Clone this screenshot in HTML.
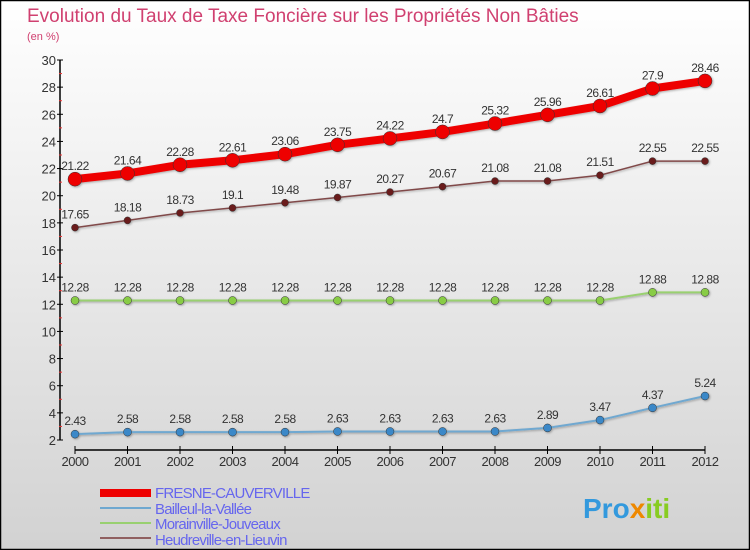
<!DOCTYPE html>
<html><head><meta charset="utf-8"><style>
body{margin:0}
#wrap{width:750px;height:550px;position:relative;overflow:hidden;font-family:"Liberation Sans",sans-serif}
</style></head><body>
<div id="wrap">
<svg id="svg" width="750" height="550" xmlns="http://www.w3.org/2000/svg">
<defs>
<linearGradient id="bg" x1="0" y1="0" x2="0" y2="1"><stop offset="0" stop-color="#ffffff"/><stop offset="1" stop-color="#d2d2d2"/></linearGradient>
<filter id="sh"><feDropShadow dx="1" dy="1" stdDeviation="1" flood-color="#000" flood-opacity="0.3"/></filter>
</defs>
<rect x="0.5" y="0.5" width="749" height="549" fill="url(#bg)" stroke="#000" stroke-width="1.5"/>
<text x="27" y="22" font-size="19" fill="#d04070">Evolution du Taux de Taxe Foncière sur les Propriétés Non Bâties</text>
<text x="27" y="40" font-size="11" fill="#d04070">(en %)</text>
<g id="axes"></g>
<g id="series"></g>
<g id="legend" letter-spacing="-0.8">
<rect x="100" y="489" width="51" height="8" fill="#ee0000"/>
<text x="155" y="498" font-size="15" fill="#6666ee">FRESNE-CAUVERVILLE</text>
<rect x="100" y="507" width="51" height="2" fill="#6fa8d0"/>
<text x="155" y="514" font-size="15" fill="#6666ee">Bailleul-la-Vallée</text>
<rect x="100" y="522" width="51" height="2" fill="#99d070"/>
<text x="155" y="529" font-size="15" fill="#6666ee">Morainville-Jouveaux</text>
<rect x="100" y="537" width="51" height="2" fill="#906060"/>
<text x="155" y="545" font-size="15" fill="#6666ee">Heudreville-en-Lieuvin</text>
</g>
<text x="583" y="518" font-size="28" font-weight="bold" fill="#3399dd">Pro<tspan fill="#ee8800">x</tspan><tspan fill="#88cc22">iti</tspan></text>
</svg>
</div>
<script>
const years=["2000","2001","2002","2003","2004","2005","2006","2007","2008","2009","2010","2011","2012"];
const yTicks=[2,4,6,8,10,12,14,16,18,20,22,24,26,28,30];
const fresne=[21.22,21.64,22.28,22.61,23.06,23.75,24.22,24.7,25.32,25.96,26.61,27.9,28.46];
const fresneLbl=["21.22","21.64","22.28","22.61","23.06","23.75","24.22","24.7","25.32","25.96","26.61","27.9","28.46"];
const heud=[17.65,18.18,18.73,19.1,19.48,19.87,20.27,20.67,21.08,21.08,21.51,22.55,22.55];
const heudLbl=["17.65","18.18","18.73","19.1","19.48","19.87","20.27","20.67","21.08","21.08","21.51","22.55","22.55"];
const morain=[12.28,12.28,12.28,12.28,12.28,12.28,12.28,12.28,12.28,12.28,12.28,12.88,12.88];
const morainLbl=["12.28","12.28","12.28","12.28","12.28","12.28","12.28","12.28","12.28","12.28","12.28","12.88","12.88"];
const bail=[2.43,2.58,2.58,2.58,2.58,2.63,2.63,2.63,2.63,2.89,3.47,4.37,5.24];
const bailLbl=["2.43","2.58","2.58","2.58","2.58","2.63","2.63","2.63","2.63","2.89","3.47","4.37","5.24"];
const NS="http://www.w3.org/2000/svg";
const x=i=>75+i*52.5;
const y=v=>440-(v-2)*(380/28);
function mk(tag,attrs,parent,text){const e=document.createElementNS(NS,tag);for(const k in attrs)e.setAttribute(k,attrs[k]);if(text!==undefined)e.textContent=text;parent.appendChild(e);return e;}
const ax=document.getElementById('axes');
let e=mk('line',{x1:60,y1:y(30),x2:60,y2:y(2),stroke:'#000','stroke-width':1.5},ax);


yTicks.forEach(t=>{
 mk('line',{x1:57,y1:y(t),x2:63,y2:y(t),stroke:'#000'},ax);
 if(t<30)mk('line',{x1:59,y1:y(t+1),x2:62,y2:y(t+1),stroke:'#e33'},ax);
 const l=mk('text',{x:56,y:y(t)+5,'font-size':13,fill:'#333','text-anchor':'end'},ax,String(t));
 
 
});
e=mk('line',{x1:75,y1:450,x2:705,y2:450,stroke:'#000','stroke-width':1.5},ax);


years.forEach((yr,i)=>{
 mk('line',{x1:x(i),y1:446,x2:x(i),y2:454,stroke:'#000'},ax);
 const l=mk('text',{x:x(i),y:466,'font-size':13,fill:'#333','text-anchor':'middle','letter-spacing':'-0.5'},ax,yr);
 
 
});
const sg=document.getElementById('series');
function series(name,vals,lbls,col,dot,w,r){
 const g=mk('g',{filter:'url(#sh)'},sg);
 
 
 const p=mk('polyline',{points:vals.map((v,i)=>x(i)+','+y(v)).join(' '),fill:'none',stroke:col,'stroke-width':w,'stroke-linejoin':'round'},g);
 
 
 vals.forEach((v,i)=>{
  const c=mk('circle',{cx:x(i),cy:y(v),r:r,fill:dot,stroke:'#333','stroke-width':0.5},g);
  
  
  const t=mk('text',{x:x(i),y:y(v)-9,'font-size':12,fill:'#333','text-anchor':'middle','letter-spacing':'-0.5'},sg,lbls[i]);
  
  
 });
}
series('bailleul',bail,bailLbl,'#6fa8d0','#3a88c8',2,4);
series('morainville',morain,morainLbl,'#99d070','#88cc44',2,4);
series('heudreville',heud,heudLbl,'#804848','#6a1a1a',1.5,3.5);
series('fresne',fresne,fresneLbl,'#ee0000','#ee0000',8,7);
</script>
</body></html>
